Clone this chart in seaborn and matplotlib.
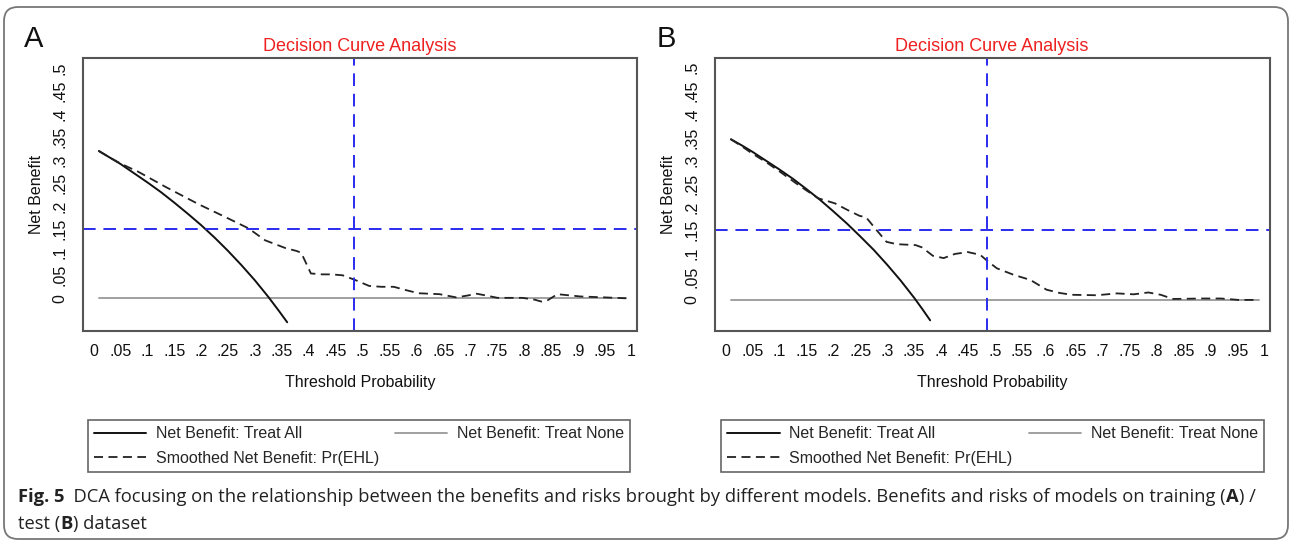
import numpy as np
import pandas as pd
import matplotlib
matplotlib.use("Agg")
import matplotlib.pyplot as plt
import seaborn as sns
from matplotlib.patches import FancyBboxPatch

# --- data ---
XTICKS = [0, .05, .1, .15, .2, .25, .3, .35, .4, .45, .5, .55, .6, .65, .7, .75, .8, .85, .9, .95, 1]
XTICK_LABELS = ['0', '.05', '.1', '.15', '.2', '.25', '.3', '.35', '.4', '.45', '.5',
                '.55', '.6', '.65', '.7', '.75', '.8', '.85', '.9', '.95', '1']
YTICKS = [0, .05, .1, .15, .2, .25, .3, .35, .4, .45, .5]
YTICK_LABELS = ['0', '.05', '.1', '.15', '.2', '.25', '.3', '.35', '.4', '.45', '.5']

H_REF = 0.15      # horizontal blue reference line
V_REF = 0.485     # vertical blue reference line

# panel A (training)
all_a_x = [0.01, 0.03, 0.05, 0.075, 0.10, 0.125, 0.15, 0.175, 0.20, 0.225, 0.25, 0.275, 0.30, 0.325, 0.345, 0.36]
all_a_y = [0.320, 0.306, 0.292, 0.272, 0.252, 0.231, 0.208, 0.184, 0.159, 0.132, 0.103, 0.072, 0.039, 0.003, -0.028, -0.052]
sm_a_x = [0.01, 0.03, 0.05, 0.07, 0.08, 0.134, 0.196, 0.246, 0.288, 0.319, 0.357, 0.377, 0.386, 0.404,
          0.425, 0.442, 0.463, 0.488, 0.512, 0.535, 0.558, 0.58, 0.604, 0.643, 0.674, 0.695, 0.712,
          0.73, 0.751, 0.797, 0.82, 0.832, 0.843, 0.862, 0.905, 0.95, 0.99]
sm_a_y = [0.320, 0.306, 0.293, 0.282, 0.277, 0.242, 0.204, 0.176, 0.152, 0.126, 0.109, 0.103, 0.099, 0.054,
          0.052, 0.052, 0.050, 0.039, 0.027, 0.025, 0.025, 0.018, 0.011, 0.009, 0.002, 0.006, 0.010,
          0.006, 0.001, 0.001, -0.003, -0.007, -0.005, 0.009, 0.004, 0.002, 0.0]

# panel B (test)
all_b_x = [0.01, 0.03, 0.05, 0.075, 0.10, 0.125, 0.15, 0.175, 0.20, 0.225, 0.25, 0.275, 0.30, 0.325, 0.35, 0.365, 0.38]
all_b_y = [0.346, 0.333, 0.319, 0.300, 0.281, 0.261, 0.239, 0.216, 0.191, 0.165, 0.137, 0.108, 0.076, 0.042, 0.005, -0.019, -0.044]
sm_b_x = [0.01, 0.03, 0.05, 0.075, 0.10, 0.13, 0.15, 0.172, 0.203, 0.226, 0.249, 0.261, 0.28, 0.299,
          0.318, 0.353, 0.365, 0.385, 0.405, 0.426, 0.45, 0.473, 0.488, 0.504, 0.535, 0.566, 0.596,
          0.62, 0.643, 0.689, 0.727, 0.758, 0.785, 0.808, 0.831, 0.883, 0.92, 0.952, 0.99]
sm_b_y = [0.346, 0.331, 0.315, 0.297, 0.277, 0.252, 0.236, 0.219, 0.208, 0.194, 0.181, 0.178, 0.151, 0.125,
          0.120, 0.118, 0.113, 0.095, 0.090, 0.099, 0.103, 0.097, 0.082, 0.068, 0.054, 0.043, 0.022,
          0.015, 0.011, 0.010, 0.014, 0.012, 0.016, 0.011, 0.002, 0.003, 0.003, 0.0, 0.0]

none_x = [0.01, 0.99]
none_y = [0.0, 0.0]

LBL_ALL = 'Net Benefit: Treat All'
LBL_NONE = 'Net Benefit: Treat None'
LBL_SM = 'Smoothed Net Benefit: Pr(EHL)'

sns.set_theme(style="white")
plt.rcParams['font.family'] = ['Liberation Sans', 'DejaVu Sans']

W, H = 1290, 541
fig = plt.figure(figsize=(W / 100, H / 100), dpi=100)

# background axes in pixel units for frame, captions and panel letters
bg = fig.add_axes([0, 0, 1, 1], zorder=-1)
bg.set_xlim(0, W)
bg.set_ylim(H, 0)
bg.axis('off')
bg.add_patch(FancyBboxPatch((4, 7), 1284, 532, boxstyle="round,pad=0,rounding_size=14",
                            fill=False, edgecolor='#777777', lw=1.3))


def px_axes(left, top, right, bottom):
    return fig.add_axes([left / W, 1 - bottom / H, (right - left) / W, (bottom - top) / H])


def draw_panel(ax, ax_x, ax_y, sm_x, sm_y, ylim):
    d_all = pd.DataFrame({'x': ax_x, 'y': ax_y})
    d_sm = pd.DataFrame({'x': sm_x, 'y': sm_y})
    d_none = pd.DataFrame({'x': none_x, 'y': none_y})
    sns.lineplot(data=d_none, x='x', y='y', ax=ax, color='#999999', lw=1.3, label=LBL_NONE)
    sns.lineplot(data=d_all, x='x', y='y', ax=ax, color='#111111', lw=1.4, label=LBL_ALL)
    sns.lineplot(data=d_sm, x='x', y='y', ax=ax, color='#222222', lw=1.3,
                 linestyle=(0, (5, 3)), label=LBL_SM)
    ax.axhline(H_REF, color='#2b2bf0', lw=1.4, linestyle=(0, (6.5, 4)))
    ax.axvline(V_REF, color='#2b2bf0', lw=1.4, linestyle=(0, (6.5, 4)))
    if ax.get_legend() is not None:
        ax.get_legend().remove()

    ax.set_xlim(-0.02, 1.01)
    ax.set_ylim(*ylim)
    ax.set_xticks(XTICKS, XTICK_LABELS)
    ax.set_yticks(YTICKS, YTICK_LABELS, rotation=90, va='center')
    ax.tick_params(axis='both', which='major', direction='out', length=5, width=1.1,
                   color='#444444', labelsize=11.5, labelcolor='#111111')
    ax.tick_params(axis='x', pad=4)
    ax.tick_params(axis='y', pad=6)
    for s in ax.spines.values():
        s.set_color('#555555')
        s.set_linewidth(1.5)
    ax.set_xlabel('Threshold Probability', fontsize=11.5, color='#111111')
    ax.set_ylabel('Net Benefit', fontsize=11.5, color='#111111')
    ax.xaxis.set_label_coords(0.5, -0.16)
    ax.yaxis.set_label_coords(-0.07, 0.5)
    ax.set_title('Decision Curve Analysis', color='#ee2020', fontsize=13, pad=5)


ax_a = px_axes(82.7, 58, 637, 331)
ax_b = px_axes(714.7, 58, 1269.5, 331)
draw_panel(ax_a, all_a_x, all_a_y, sm_a_x, sm_a_y, (-0.071, 0.522))
draw_panel(ax_b, all_b_x, all_b_y, sm_b_x, sm_b_y, (-0.067, 0.521))

bg.text(24, 47, 'A', fontsize=21, va='baseline', ha='left', color='#111111')
bg.text(657, 47, 'B', fontsize=21, va='baseline', ha='left', color='#111111')

# legends under each panel
for ax, (l, r) in [(ax_a, (87.7, 630)), (ax_b, (721, 1264))]:
    hd, lb = ax.get_legend_handles_labels()
    order = [lb.index(LBL_ALL), lb.index(LBL_SM), lb.index(LBL_NONE)]
    fig.legend([hd[i] for i in order], [lb[i] for i in order], ncol=2, mode='expand',
               loc='center', bbox_to_anchor=(l / W, 1 - 473 / H, (r - l) / W, 54 / H),
               fontsize=11.5, frameon=True, fancybox=False, edgecolor='#666666',
               framealpha=1, borderpad=0.37, labelspacing=0.6, handlelength=3.3,
               handletextpad=0.6, columnspacing=1.0, borderaxespad=0)
for lg in fig.legends:
    lg.get_frame().set_linewidth(1.2)

# caption with bold pieces, chained one after another
cap_font = ['Open Sans', 'DejaVu Sans']
CAP_SIZE = 13.2


def chain(pieces, x, y):
    prev = bg.text(x, y, pieces[0][0], fontsize=CAP_SIZE, family=cap_font,
                   fontweight=pieces[0][1], va='bottom', ha='left', color='#222222')
    for txt, wt in pieces[1:]:
        prev = bg.annotate(txt, xy=(1, 0), xycoords=prev, va='bottom', ha='left',
                           fontsize=CAP_SIZE, family=cap_font, fontweight=wt,
                           color='#222222', annotation_clip=False)


chain([('Fig. 5', 'bold'),
       ('  DCA focusing on the relationship between the benefits and risks brought by different models. '
        'Benefits and risks of models on training (', 'normal'),
       ('A', 'bold'), (') /', 'normal')], 18, 506)
chain([('test (', 'normal'), ('B', 'bold'), (') dataset', 'normal')], 18, 533)

fig.savefig('out.png', dpi=100)
